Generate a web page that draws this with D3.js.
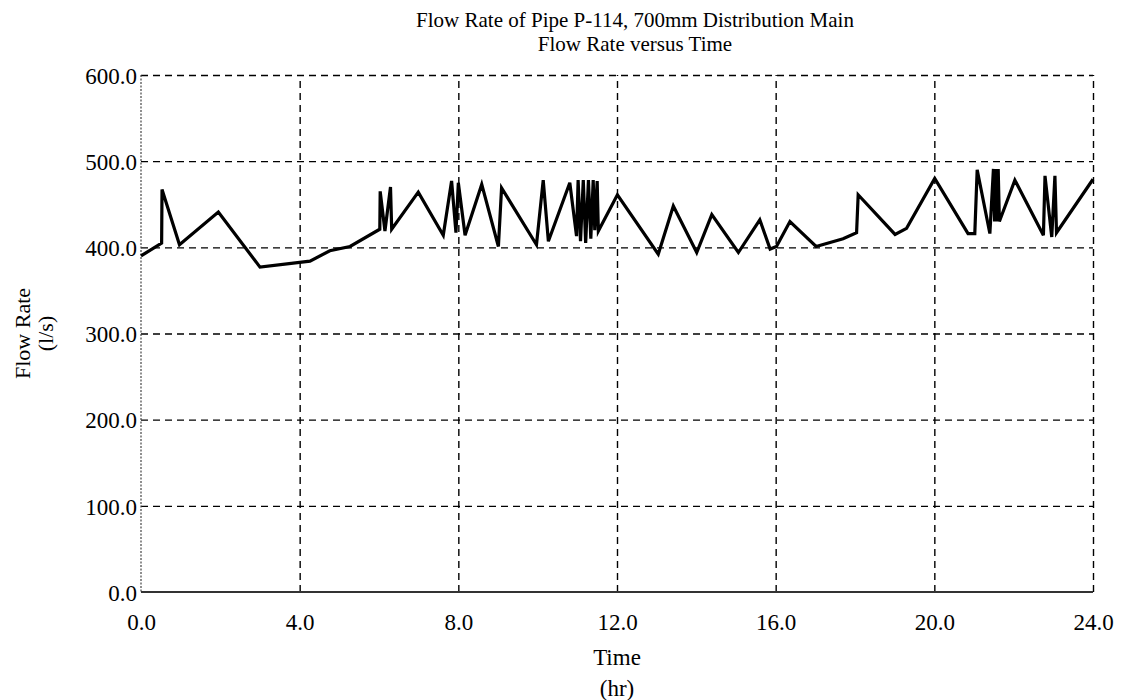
<!DOCTYPE html>
<html lang="en">
<head>
  <meta charset="UTF-8">
  <title>Flow Rate of Pipe P-114</title>
  <script src="https://d3js.org/d3.v7.min.js"></script>
  <style>
    body {
      margin: 0;
      background: #fff;
      font-family: "Liberation Serif", "Times New Roman", serif;
    }
    svg text {
      fill: #000;
    }
    .grid line {
      stroke: #000;
      stroke-width: 1.4;
      stroke-dasharray: 7,5;
    }
    .tick text {
      font-size: 23px;
      font-family: "Liberation Serif", serif;
    }
  </style>
</head>
<body>
  <svg width="1125" height="700"></svg>

  <script>
    // time (hr) and flow (l/s)
    const timeHr = [0, 0.52, 0.53, 0.97, 1.95, 3.0, 4.26, 4.76, 5.27, 6.02, 6.03, 6.15, 6.29, 6.32,
      6.99, 7.62, 7.83, 7.94, 8.0, 8.17, 8.59, 9.01, 9.09, 9.97, 10.14, 10.27, 10.81, 10.98,
      11.02, 11.08, 11.15, 11.21, 11.28, 11.34, 11.40, 11.44, 11.50, 11.53,
      12.01, 13.04, 13.42, 14.01, 14.39, 15.06, 15.6, 15.86, 16.02, 16.36, 17.02, 17.7, 18.04, 18.08,
      19.01, 19.3, 20.01, 20.85, 21.02, 21.08, 21.4, 21.49, 21.52, 21.55, 21.58, 21.61, 21.64,
      22.03, 22.75, 22.79, 22.96, 23.04, 23.08, 24.0];
    const flowLs = [390, 405, 467, 403, 441, 377, 384, 396, 401, 421, 465, 419, 470, 421,
      464, 414, 477, 417, 475, 414, 473, 401, 469, 403, 478, 407, 475, 413,
      478, 407, 478, 405, 478, 410, 478, 420, 477, 419,
      461, 392, 448, 394, 438, 394, 432, 398, 401, 430, 401, 410, 417, 461,
      415, 422, 480, 416, 416, 490, 416, 491, 430, 491, 430, 491, 430,
      478, 414, 483, 412, 483, 417, 479];

    const xTicks = [0, 4, 8, 12, 16, 20, 24];
    const yTicks = [0, 100, 200, 300, 400, 500, 600];

    const titleLines = ['Flow Rate of Pipe P-114, 700mm Distribution Main', 'Flow Rate versus Time'];
    const xTitle = ['Time', '(hr)'];
    const yTitle = ['Flow Rate', '(l/s)'];

    const svg = d3.select('svg');
    const margin = { top: 75, right: 32, bottom: 108, left: 141 };
    const width = 1125 - margin.left - margin.right;
    const height = 700 - margin.top - margin.bottom;

    const g = svg.append('g')
      .attr('transform', `translate(${margin.left},${margin.top})`);

    const x = d3.scaleLinear().domain([0, 24]).range([0, width]);
    const y = d3.scaleLinear().domain([0, 600]).range([height, 0]);

    // grid + labels
    const xAxis = g.append('g')
      .attr('class', 'grid')
      .attr('transform', `translate(0,${height})`)
      .call(d3.axisBottom(x).tickValues(xTicks).tickFormat(d3.format('.1f'))
        .tickSize(-height).tickPadding(22));
    xAxis.select('.domain').remove();
    xAxis.selectAll('.tick').filter(d => d === 0).select('line').remove();

    const yAxis = g.append('g')
      .attr('class', 'grid')
      .call(d3.axisLeft(y).tickValues(yTicks).tickFormat(d3.format('.1f'))
        .tickSize(-width).tickPadding(4));
    yAxis.select('.domain').remove();
    yAxis.selectAll('.tick').filter(d => d === 0).select('line').remove();
    yAxis.selectAll('.tick text').attr('dy', '0.36em');

    // left and bottom axis lines
    g.append('line')
      .attr('x1', 0).attr('x2', 0).attr('y1', 0).attr('y2', height)
      .attr('stroke', '#444').attr('stroke-width', 1.2).attr('stroke-dasharray', '2,1.5');
    g.append('line')
      .attr('x1', 0).attr('x2', width).attr('y1', height).attr('y2', height)
      .attr('stroke', '#333').attr('stroke-width', 2);

    // flow line
    const pts = timeHr.map((t, i) => [t, flowLs[i]]);
    g.append('path')
      .datum(pts)
      .attr('fill', 'none')
      .attr('stroke', '#000')
      .attr('stroke-width', 3.2)
      .attr('stroke-linejoin', 'miter')
      .attr('d', d3.line().x(d => x(d[0])).y(d => y(d[1])));

    // titles
    svg.selectAll('.title')
      .data(titleLines)
      .enter()
      .append('text')
      .attr('x', 635)
      .attr('y', (d, i) => 27 + i * 24)
      .attr('text-anchor', 'middle')
      .style('font-size', '21px')
      .text(d => d);

    svg.selectAll('.xtitle')
      .data(xTitle)
      .enter()
      .append('text')
      .attr('x', margin.left + width / 2)
      .attr('y', (d, i) => 665 + i * 31)
      .attr('text-anchor', 'middle')
      .style('font-size', '23px')
      .text(d => d);

    svg.selectAll('.ytitle')
      .data(yTitle)
      .enter()
      .append('text')
      .attr('transform', (d, i) => `translate(${30 + i * 23},${margin.top + height / 2}) rotate(-90)`)
      .attr('text-anchor', 'middle')
      .style('font-size', '22px')
      .text(d => d);
  </script>
</body>
</html>
